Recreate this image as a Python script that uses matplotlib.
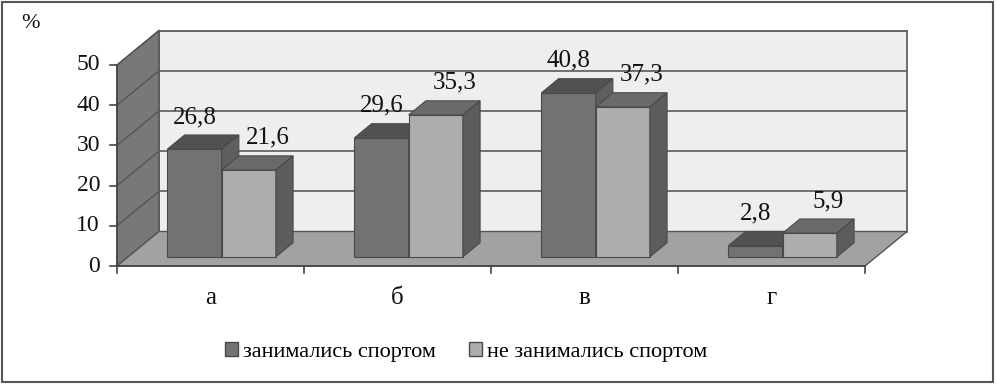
import matplotlib.pyplot as plt
from matplotlib.patches import Polygon, Rectangle, Patch

plt.rcParams['font.family'] = ['Liberation Serif', 'DejaVu Serif']

categories = ['а', 'б', 'в', 'г']
series_names = ['занимались спортом', 'не занимались спортом']
sport = [26.8, 29.6, 40.8, 2.8]
no_sport = [21.6, 35.3, 37.3, 5.9]
y_ticks = [0, 10, 20, 30, 40, 50]
labels_sport = ['26,8', '29,6', '40,8', '2,8']
labels_no_sport = ['21,6', '35,3', '37,3', '5,9']

# colours: front, top, side
dark_cols = ('#727272', '#515151', '#5e5e5e')
light_cols = ('#adadad', '#6a6a6a', '#5c5c5c')
edge = '#4a4a4a'

W, H = 997, 386
fig = plt.figure(figsize=(W / 100, H / 100), dpi=100)
ax = fig.add_axes([0, 0, 1, 1])
# pixel mapping: x=0 -> 117px, 187px per category; y=0 -> 266px from top, 4.02px per %
px_x, px_y = 187.0, 4.02
ax.set_xlim(-117 / px_x, (W - 117) / px_x)
ax.set_ylim(-(H - 266) / px_y, 266 / px_y)
ax.axis('off')

# depth vector (full depth of the box) in data units
DX = 42 / px_x
DY = 34.5 / px_y
ymax = y_ticks[-1]
n = len(categories)

# walls and floor
ax.add_patch(Polygon([(DX, DY), (n + DX, DY), (n + DX, ymax + DY), (DX, ymax + DY)],
                     closed=True, fc='#eeeeee', ec='#555555', lw=1.2, zorder=1))
ax.add_patch(Polygon([(0, 0), (DX, DY), (DX, ymax + DY), (0, ymax)],
                     closed=True, fc='#787878', ec='#555555', lw=1.0, zorder=1))
ax.add_patch(Polygon([(0, 0), (n, 0), (n + DX, DY), (DX, DY)],
                     closed=True, fc='#a2a2a2', ec='#555555', lw=1.0, zorder=2))
for v in y_ticks[1:]:
    ax.plot([DX, n + DX], [v + DY, v + DY], color='#666666', lw=1.3, zorder=1.5)
    ax.plot([0, DX], [v, v + DY], color='#555555', lw=1.0, zorder=1.5)

# axes lines and ticks
ax.plot([0, 0], [0, ymax], color='#444444', lw=1.2, zorder=3)
ax.plot([0, n], [0, 0], color='#444444', lw=1.2, zorder=3)
for v in y_ticks:
    ax.plot([-7 / px_x, 0], [v, v], color='#444444', lw=1.2, zorder=3)
    ax.text(-17 / px_x, v, str(v), ha='right', va='center', fontsize=17, color='#111111')
for i in range(n + 1):
    ax.plot([i, i], [0, -7 / px_y], color='#444444', lw=1.2, zorder=3)
for i, c in enumerate(categories):
    ax.text(i + 0.5, -32 / px_y, c, ha='center', va='center', fontsize=18, color='#111111')
ax.text(-86 / px_x, 242 / px_y, '%', ha='center', va='center', fontsize=16, color='#111111')

# 3d bars
z0, z1 = 0.265, 0.675
bw = 0.29
gap = 0.21


def bar3d(x0, v, cols, zo):
    fx = x0 + z0 * DX
    fy = z0 * DY
    bx = x0 + z1 * DX
    by = z1 * DY
    ax.bar(fx, v, width=bw, bottom=fy, align='edge', color=cols[0], edgecolor=edge, lw=0.8, zorder=zo)
    ax.add_patch(Polygon([(fx, fy + v), (fx + bw, fy + v), (bx + bw, by + v), (bx, by + v)],
                         closed=True, fc=cols[1], ec=edge, lw=0.8, zorder=zo))
    ax.add_patch(Polygon([(fx + bw, fy), (bx + bw, by), (bx + bw, by + v), (fx + bw, fy + v)],
                         closed=True, fc=cols[2], ec=edge, lw=0.8, zorder=zo))


for i in range(n):
    x_dark = i + gap
    x_light = i + gap + bw
    bar3d(x_dark, sport[i], dark_cols, 4 + i * 2)
    bar3d(x_light, no_sport[i], light_cols, 5 + i * 2)
    ax.text(x_dark + bw / 2 + z0 * DX, sport[i] + z0 * DY + 8, labels_sport[i],
            ha='center', va='center', fontsize=18, color='#111111', zorder=20)
    ax.text(x_light + bw / 2 + z0 * DX + 0.1, no_sport[i] + z0 * DY + 8, labels_no_sport[i],
            ha='center', va='center', fontsize=18, color='#111111', zorder=20)

# legend
handles = [Patch(fc=dark_cols[0], ec=edge), Patch(fc=light_cols[0], ec=edge)]
fig.legend(handles, series_names, loc='center', bbox_to_anchor=(466 / W, 1 - 352 / H),
           ncol=2, frameon=False, fontsize=16, handlelength=0.6, handleheight=0.6,
           handletextpad=0.2, columnspacing=1.5)

# outer frame
fig.add_artist(Rectangle((2 / W, 4 / H), 991 / W, 380 / H, transform=fig.transFigure,
                         fill=False, ec='#555555', lw=1.5))

fig.savefig('out.png', dpi=100)
